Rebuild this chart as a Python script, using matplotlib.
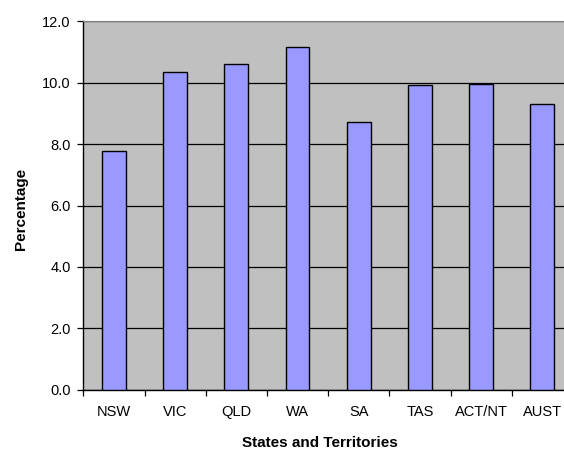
from matplotlib import pyplot as plt
from matplotlib.ticker import FormatStrFormatter
import numpy as np

# data
states = ['NSW', 'VIC', 'QLD', 'WA', 'SA', 'TAS', 'ACT/NT', 'AUST']
percentage = [7.78, 10.36, 10.61, 11.17, 8.73, 9.93, 9.97, 9.30]
y_ticks = [0, 2, 4, 6, 8, 10, 12]

plt.rcParams['font.family'] = ['Liberation Sans', 'DejaVu Sans']

fig = plt.figure(figsize=(5.64, 4.51), dpi=100)
# plot area runs past the right edge of the picture, as in the original
ax = fig.add_axes([83.3/564, 61.3/451, 489.7/564, 368.4/451])
ax.set_facecolor('#C0C0C0')

x = np.arange(len(states))
ax.bar(x, percentage, width=0.39, color='#9999FF', edgecolor='black', linewidth=1.0, zorder=3)

ax.set_xlim(-0.5, len(states) - 0.5)
ax.set_ylim(0, 12)
ax.set_yticks(y_ticks)
ax.yaxis.set_major_formatter(FormatStrFormatter('%.1f'))
ax.yaxis.grid(True, color='black', linewidth=0.9, zorder=1)
ax.set_axisbelow(True)

ax.set_xticks(x)
ax.set_xticklabels(states)
ax.set_xticks(np.arange(-0.5, len(states), 1), minor=True)
ax.tick_params(axis='x', which='major', length=0, pad=11, labelsize=10.5)
ax.tick_params(axis='x', which='minor', length=4, width=0.9, direction='out')
ax.tick_params(axis='y', length=4, width=0.9, direction='out', pad=5, labelsize=10.5)

for side in ['left', 'bottom']:
    ax.spines[side].set_color('black')
    ax.spines[side].set_linewidth(1.0)
ax.spines['top'].set_color('#808080')
ax.spines['right'].set_color('#808080')

ax.set_xlabel('States and Territories', fontweight='bold', fontsize=11)
ax.set_ylabel('Percentage', fontweight='bold', fontsize=11)
ax.xaxis.set_label_coords(0.5 - 8.3/489.7, -53.3/368.4)
ax.xaxis.label.set_va('center')
ax.yaxis.set_label_coords(-62.3/489.7, 0.49)
ax.yaxis.label.set_va('center')

fig.savefig('out.png', dpi=100)
